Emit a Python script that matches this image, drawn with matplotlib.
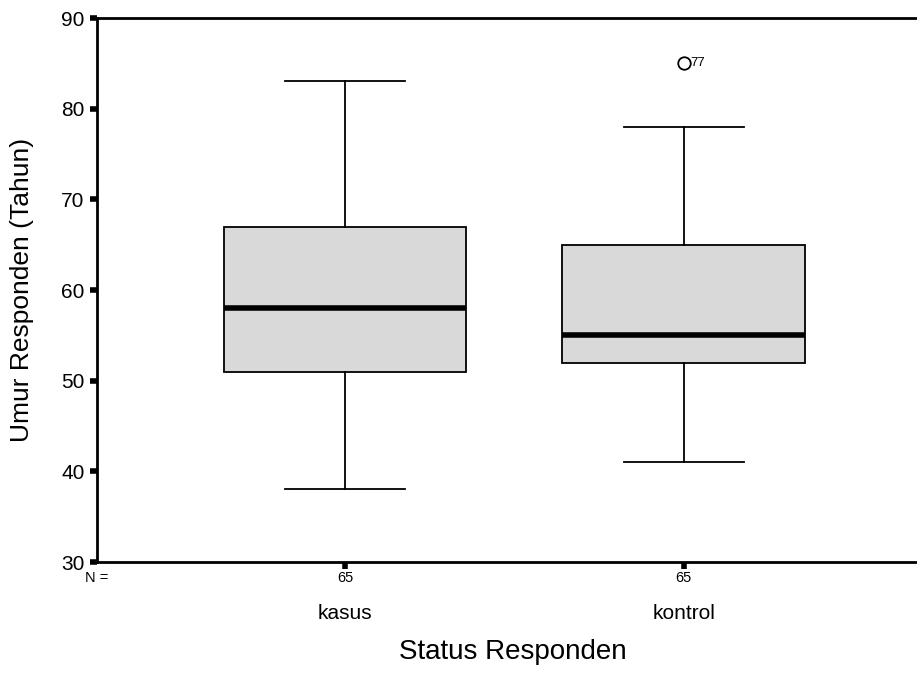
import matplotlib
matplotlib.use("Agg")
import matplotlib.pyplot as plt

plt.rcParams['font.family'] = ['Liberation Sans', 'DejaVu Sans']

categories = ["kasus", "kontrol"]
n_values = [65, 65]
whislo = [38, 41]
q1 = [51, 52]
med = [58, 55]
q3 = [67, 65]
whishi = [83, 78]
fliers = [[], [85]]
flier_ids = [[], ["77"]]
yticks = [30, 40, 50, 60, 70, 80, 90]

fig = plt.figure(figsize=(9.17, 6.9), dpi=100)
ax = fig.add_axes([0.1058, 0.1855, 0.8942, 0.7884])

stats = []
for i in range(len(categories)):
    stats.append(dict(med=med[i], q1=q1[i], q3=q3[i], whislo=whislo[i],
                      whishi=whishi[i], fliers=fliers[i], label=categories[i]))

positions = [1, 2]
ax.bxp(stats, positions=positions, widths=0.716, patch_artist=True,
       boxprops=dict(facecolor='#d9d9d9', edgecolor='black', linewidth=1.3),
       medianprops=dict(color='black', linewidth=4, solid_capstyle='butt'),
       whiskerprops=dict(color='black', linewidth=1.3),
       capprops=dict(color='black', linewidth=1.3),
       capwidths=0.355,
       flierprops=dict(marker='o', markerfacecolor='white', markeredgecolor='black',
                       markersize=9, markeredgewidth=1.3))

for i, (fl, ids) in enumerate(zip(fliers, flier_ids)):
    for v, t in zip(fl, ids):
        ax.annotate(t, (positions[i], v), xytext=(5, 0), textcoords='offset points',
                    va='center', ha='left', fontsize=9.5)

ax.set_xlim(0.266, 2.69)
ax.set_ylim(30, 90)
ax.set_yticks(yticks)
ax.set_xticks(positions)
ax.set_xticklabels([])
ax.tick_params(axis='y', labelsize=15, length=5, width=4, direction='out', pad=4)
ax.tick_params(axis='x', length=5, width=4, direction='out')
ax.spines['right'].set_visible(False)
for s in ['left', 'top', 'bottom']:
    ax.spines[s].set_linewidth(2)

fig.text(22 / 917, (690 - 290) / 690, "Umur Responden (Tahun)",
         rotation=90, ha='center', va='center', fontsize=19)

# N labels and category labels
trans = ax.get_xaxis_transform()
ax.text(0.266, -0.03, "N =", transform=trans, ha='center', va='center', fontsize=10.5)
for i, (p, n, c) in enumerate(zip(positions, n_values, categories)):
    ax.text(p, -0.03, str(n), transform=trans, ha='center', va='center', fontsize=10.5)
    ax.text(p, -0.095, c, transform=trans, ha='center', va='center', fontsize=15)

fig.text(513 / 917, 0.055, "Status Responden", ha='center', va='center', fontsize=20)

fig.savefig("out.png", dpi=100)
